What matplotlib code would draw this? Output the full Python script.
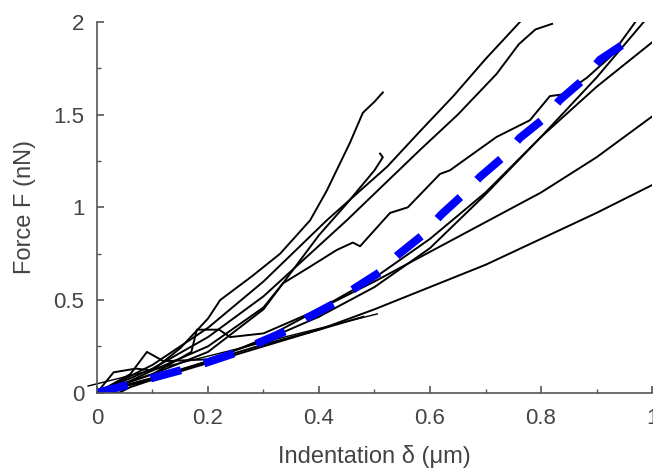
import matplotlib.pyplot as plt
from matplotlib.ticker import MultipleLocator, FormatStrFormatter

plt.rcParams['font.family'] = ['Liberation Sans', 'DejaVu Sans']

# measured force curves (indentation in um, force in nN)
a_x = [0, 0.05, 0.1, 0.15, 0.2, 0.222, 0.28, 0.33, 0.384, 0.414, 0.456, 0.479, 0.5, 0.515]
a_y = [0, 0.05, 0.12, 0.24, 0.4, 0.5, 0.63, 0.75, 0.93, 1.09, 1.35, 1.51, 1.57, 1.62]

b_x = [0, 0.1, 0.2, 0.3, 0.414, 0.523, 0.585, 0.642, 0.7, 0.762]
b_y = [0, 0.15, 0.35, 0.6, 0.93, 1.22, 1.42, 1.6, 1.8, 2.0]

c_x = [0, 0.1, 0.2, 0.3, 0.45, 0.582, 0.65, 0.72, 0.76, 0.79, 0.82]
c_y = [0, 0.13, 0.3, 0.52, 0.93, 1.31, 1.5, 1.72, 1.88, 1.96, 1.99]

d1_x = [0, 0.03, 0.07, 0.1, 0.2, 0.3, 0.335, 0.384, 0.432, 0.461, 0.474, 0.528, 0.56, 0.618,
        0.636, 0.72, 0.78, 0.816, 0.84, 0.883, 0.924, 0.97]
d1_y = [0, 0.11, 0.13, 0.12, 0.25, 0.46, 0.59, 0.68, 0.77, 0.81, 0.79, 0.97, 1.0, 1.18,
        1.2, 1.38, 1.47, 1.6, 1.61, 1.7, 1.81, 2.0]

d2_x = [0, 0.1, 0.2, 0.3, 0.4, 0.5, 0.6, 0.7, 0.8, 0.9, 0.985]
d2_y = [0, 0.07, 0.17, 0.29, 0.45, 0.62, 0.83, 1.08, 1.38, 1.7, 2.0]

e_x = [0, 0.06, 0.09, 0.12, 0.2, 0.3, 0.4, 0.5, 0.6, 0.7, 0.8, 0.9, 1.0]
e_y = [0, 0.1, 0.22, 0.17, 0.18, 0.28, 0.41, 0.57, 0.78, 1.07, 1.38, 1.65, 1.89]

g_x = [0, 0.1, 0.17, 0.18, 0.22, 0.24, 0.3, 0.4, 0.5, 0.6, 0.7, 0.8, 0.9, 1.0]
g_y = [0, 0.1, 0.22, 0.34, 0.34, 0.3, 0.32, 0.45, 0.6, 0.76, 0.92, 1.08, 1.27, 1.49]

h_x = [0, 0.04, 0.06, 0.1, 0.2, 0.3, 0.4, 0.5, 0.6, 0.7, 0.8, 0.9, 1.0]
h_y = [0, 0.0, 0.03, 0.07, 0.16, 0.25, 0.34, 0.45, 0.57, 0.69, 0.83, 0.97, 1.12]

i_x = [0, 0.1, 0.2, 0.3, 0.35, 0.4, 0.45, 0.5, 0.515, 0.51]
i_y = [0, 0.1, 0.22, 0.45, 0.65, 0.85, 1.02, 1.2, 1.27, 1.29]

l_x = [0, 0.1, 0.2, 0.3, 0.4, 0.48]
l_y = [0, 0.08, 0.17, 0.26, 0.34, 0.41]

# model fit
fit_x = [0, 0.056, 0.099, 0.153, 0.195, 0.249, 0.29, 0.341, 0.378, 0.429, 0.465, 0.51, 0.542,
         0.587, 0.62, 0.659, 0.69, 0.732, 0.762, 0.807, 0.834, 0.876, 0.906, 0.955]
fit_y = [0, 0.042, 0.079, 0.123, 0.16, 0.214, 0.268, 0.333, 0.403, 0.484, 0.565, 0.651, 0.743,
         0.851, 0.96, 1.067, 1.164, 1.272, 1.375, 1.483, 1.58, 1.688, 1.796, 1.893]

# linear fit at small indentation
lin_x = [-0.016, 0.505]
lin_y = [0.036, 0.425]

fig = plt.figure(figsize=(6.53, 4.72), dpi=100)
ax = fig.add_axes([0.1485, 0.168, 0.85, 0.7854])

curves = [(a_x, a_y), (b_x, b_y), (c_x, c_y), (d1_x, d1_y), (d2_x, d2_y), (e_x, e_y),
          (g_x, g_y), (h_x, h_y), (i_x, i_y), (l_x, l_y)]
for cx, cy in curves:
    ax.plot(cx, cy, color='black', lw=1.4)

ax.plot(lin_x, lin_y, color='black', lw=1.0, clip_on=False)
ax.plot(fit_x, fit_y, color='#0000ff', lw=5.8, linestyle=(0, (3.9, 3.0)), dash_capstyle='butt')

ax.set_xlim(0, 1)
ax.set_ylim(0, 2)
ax.spines['top'].set_visible(False)
ax.spines['right'].set_visible(False)
for s in ('left', 'bottom'):
    ax.spines[s].set_color('#555555')
    ax.spines[s].set_linewidth(1.2)

ax.xaxis.set_major_locator(MultipleLocator(0.2))
ax.xaxis.set_minor_locator(MultipleLocator(0.1))
ax.yaxis.set_major_locator(MultipleLocator(0.5))
ax.yaxis.set_minor_locator(MultipleLocator(0.25))
ax.xaxis.set_major_formatter(FormatStrFormatter('%g'))
ax.yaxis.set_major_formatter(FormatStrFormatter('%g'))
ax.tick_params(which='both', direction='in', color='#555555', labelcolor='#444444',
               labelsize=16)
ax.tick_params(which='major', length=5, width=1.2)
ax.tick_params(which='minor', length=3, width=1.0)
ax.tick_params(axis='x', which='major', pad=11)
ax.tick_params(axis='y', which='major', pad=9)

ax.set_xlabel('Indentation δ (μm)', fontsize=17, color='#444444')
ax.set_ylabel('Force F (nN)', fontsize=17, color='#444444')
ax.xaxis.set_label_coords(0.5, -0.14)
ax.yaxis.set_label_coords(-0.11, 0.5)

fig.savefig('out.png', dpi=100)
